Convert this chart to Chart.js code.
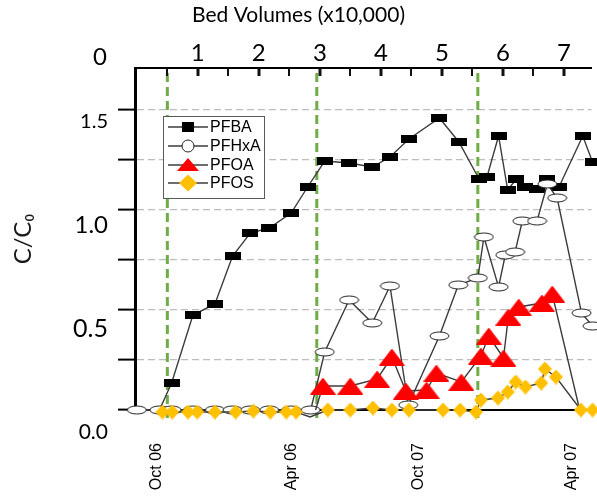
<!DOCTYPE html>
<html>
<head>
<meta charset="utf-8">
<script src="https://cdn.jsdelivr.net/npm/chart.js@4.4.1/dist/chart.umd.min.js"></script>
<style>
  html, body { margin: 0; padding: 0; background: #fff; }
  .wrap { position: relative; width: 597px; height: 496px; }
  .legend {
    position: absolute; left: 163px; top: 116px; width: 102px; height: 83px;
    box-sizing: border-box; border: 1.5px solid #595959; background: #fff;
    padding: 1px 0 0 4px; font: 16px "Liberation Sans", Arial, sans-serif; color: #000;
  }
  .legend div { display: flex; align-items: center; height: 18.7px; white-space: nowrap; }
  .legend canvas { margin-right: 2px; }
</style>
</head>
<body>
<div class="wrap">
  <canvas id="myChart" width="597" height="496"></canvas>
  <div class="legend" id="legend"></div>
</div>
<script>
// data (x = bed volumes x10,000, y = C/C0)

const pfbaBV = [0.00, 0.37, 0.57, 0.92, 1.28, 1.57, 1.86, 2.17, 2.53, 2.80, 3.08, 3.48, 3.86, 4.15, 4.46, 4.96, 5.28, 5.61, 5.74, 5.93, 6.08, 6.22, 6.37, 6.56, 6.73, 6.92, 7.31, 7.47];
const pfbaC = [0, 0, 0.135, 0.475, 0.53, 0.77, 0.885, 0.91, 0.985, 1.115, 1.245, 1.235, 1.215, 1.265, 1.355, 1.46, 1.34, 1.155, 1.165, 1.37, 1.10, 1.155, 1.115, 1.105, 1.155, 1.115, 1.37, 1.24];

const pfhxaBV = [0.00, 0.37, 0.57, 0.92, 1.28, 1.57, 1.86, 2.17, 2.53, 2.85, 3.08, 3.48, 3.86, 4.15, 4.45, 4.96, 5.27, 5.59, 5.69, 5.93, 6.04, 6.20, 6.32, 6.56, 6.73, 6.89, 7.29, 7.47];
const pfhxaC = [0, 0, 0, 0, 0, 0, 0, 0, 0, 0, 0.29, 0.55, 0.435, 0.62, 0.025, 0.37, 0.625, 0.66, 0.865, 0.615, 0.775, 0.79, 0.945, 0.945, 1.13, 1.06, 0.485, 0.42];

const pfoaBV = [2.93, 3.05, 3.50, 3.94, 4.18, 4.41, 4.75, 4.91, 5.32, 5.64, 5.77, 6.01, 6.09, 6.26, 6.64, 6.81, 7.26, 7.47];
const pfoaC = [0, 0.12, 0.12, 0.155, 0.265, 0.095, 0.10, 0.185, 0.14, 0.27, 0.37, 0.26, 0.465, 0.515, 0.535, 0.58, 0, 0];

const pfosBV = [0.42, 0.58, 0.84, 0.99, 1.28, 1.62, 1.91, 2.19, 2.45, 2.61, 2.84, 3.13, 3.50, 3.87, 4.18, 4.46, 5.02, 5.30, 5.56, 5.64, 5.92, 6.08, 6.21, 6.37, 6.63, 6.69, 6.87, 7.28, 7.47];
const pfosC = [-0.01, -0.01, -0.01, -0.01, -0.01, -0.01, -0.005, -0.01, -0.01, -0.01, -0.035, 0, 0, 0.01, 0, 0, 0, 0, -0.01, 0.05, 0.06, 0.09, 0.14, 0.115, 0.135, 0.205, 0.165, 0, 0];

// dashed green markers (bed volumes)
const markerBV = [0.5, 2.95, 5.59];

// tick labels
const bvLabels = ['0', '1', '2', '3', '4', '5', '6', '7'];
const dateLabels = ['Oct 06', 'Apr 06', 'Oct 07', 'Apr 07'];
const dateBV = [0.32, 2.53, 4.62, 7.13];
const yLabels = ['0.0', '0.5', '1.0', '1.5'];
const yLabelVals = [0, 0.5, 1.0, 1.5];
const yLabelSize = [21, 25, 24, 20];

const X_MIN = -0.03, X_MAX = 7.455, Y_MIN = 0, Y_MAX = 1.71;
const lineColor = '#3c3c3c';

function marker(w, h, draw) {
  const c = document.createElement('canvas');
  c.width = w; c.height = h;
  draw(c.getContext('2d'), w, h);
  return c;
}
function square(g, w, h) { g.fillStyle = '#000'; g.fillRect(0, 0, w, h); }
function oval(g, w, h) {
  g.fillStyle = '#fff'; g.strokeStyle = '#222'; g.lineWidth = 1;
  g.beginPath(); g.ellipse(w / 2, h / 2, w / 2 - 1, h / 2 - 1, 0, 0, Math.PI * 2);
  g.fill(); g.stroke();
}
function tri(g, w, h) {
  g.fillStyle = '#ff0000';
  g.beginPath(); g.moveTo(0, h); g.lineTo(w / 2, 0); g.lineTo(w, h); g.closePath(); g.fill();
}
function diamond(g, w, h) {
  g.fillStyle = '#ffc000';
  g.beginPath(); g.moveTo(w / 2, 0); g.lineTo(w, h / 2); g.lineTo(w / 2, h); g.lineTo(0, h / 2); g.closePath(); g.fill();
}

const sqImg = marker(16, 8, square);
const ovImg = marker(21, 10, oval);
const triImg = marker(26, 17, tri);
const diaImg = marker(14, 15, diamond);

function pts(xs, ys) {
  return xs.map(function(x, i) { return { x: x, y: ys[i] }; });
}

function series(label, xs, ys, img, order, hideZero, icon) {
  return {
    label: label,
    data: pts(xs, ys),
    xAxisID: 'x',
    yAxisID: 'y',
    borderColor: lineColor,
    backgroundColor: lineColor,
    borderWidth: 1.4,
    pointStyle: function(ctx) {
      if (hideZero && ctx.raw && ctx.raw.y === 0) return false;
      return img;
    },
    order: order,
    clip: false,
    legendIcon: icon
  };
}

const datasets = [
  series('PFBA', pfbaBV, pfbaC, sqImg, 4, true, function(g) { g.fillStyle = '#000'; g.fillRect(14, 4, 12, 10); }),
  series('PFHxA', pfhxaBV, pfhxaC, ovImg, 3, false, function(g) {
    g.fillStyle = '#fff'; g.strokeStyle = '#222'; g.lineWidth = 1;
    g.beginPath(); g.arc(20, 9, 6, 0, Math.PI * 2); g.fill(); g.stroke();
  }),
  series('PFOA', pfoaBV, pfoaC, triImg, 2, true, function(g) {
    g.fillStyle = '#ff0000';
    g.beginPath(); g.moveTo(9, 15); g.lineTo(20, 2); g.lineTo(31, 15); g.closePath(); g.fill();
  }),
  series('PFOS', pfosBV, pfosC, diaImg, 1, false, function(g) {
    g.fillStyle = '#ffc000';
    g.beginPath(); g.moveTo(20, 0.5); g.lineTo(29, 9); g.lineTo(20, 17.5); g.lineTo(11, 9); g.closePath(); g.fill();
  })
];

markerBV.forEach(function(bv) {
  datasets.push({
    label: '',
    data: [{ x: bv, y: -0.04 }, { x: bv, y: Y_MAX }],
    xAxisID: 'x',
    yAxisID: 'y',
    borderColor: '#70ad47',
    borderWidth: 3,
    borderDash: [9, 5],
    pointRadius: 0,
    order: 10,
    clip: false
  });
});

// top axis extras: "0" sits left of the plot, tick marks point inward
const topAxisExtras = {
  id: 'topAxisExtras',
  afterDraw: function(chart) {
    const s = chart.scales.x2;
    const ctx = chart.ctx;
    ctx.save();
    ctx.strokeStyle = '#111';
    s.ticks.forEach(function(t) {
      const px = Math.round(s.getPixelForValue(t.value));
      ctx.lineWidth = Number.isInteger(t.value) ? 3 : 2;
      ctx.beginPath();
      ctx.moveTo(px, s.bottom);
      ctx.lineTo(px, s.bottom + 8);
      ctx.stroke();
    });
    ctx.font = '24px Lato';
    ctx.fillStyle = '#000';
    ctx.textAlign = 'center';
    ctx.textBaseline = 'middle';
    ctx.fillText(bvLabels[0], 100, s.bottom - 11);
    ctx.restore();
  }
};

function noSidePadding(s) {
  s.paddingLeft = 0; s.paddingRight = 0;
}

const ctx = document.getElementById('myChart').getContext('2d');

const chart = new Chart(ctx, {
  type: 'line',
  data: { datasets: datasets },
  plugins: [topAxisExtras],
  options: {
    responsive: false,
    animation: false,
    layout: { padding: 0 },
    plugins: {
      legend: { display: false },
      tooltip: { enabled: false },
      title: {
        display: true,
        text: 'Bed Volumes (x10,000)',
        color: '#000',
        font: { family: 'Lato', size: 21, weight: 'normal', lineHeight: 1.2 },
        padding: { top: 3, bottom: 0 }
      }
    },
    scales: {
      x: {
        type: 'linear', position: 'bottom', min: X_MIN, max: X_MAX,
        afterBuildTicks: function(s) { s.ticks = dateBV.map(function(v) { return { value: v }; }); },
        afterFit: function(s) { s.height = 86; noSidePadding(s); },
        grid: { display: false, drawTicks: false },
        border: { display: true, color: '#000', width: 2 },
        ticks: {
          autoSkip: false, minRotation: 90, maxRotation: 90, padding: 33, color: '#000',
          font: { family: '"Liberation Sans", Arial', size: 16 },
          callback: function(v, i) { return dateLabels[i]; }
        }
      },
      x2: {
        type: 'linear', position: 'top', min: X_MIN, max: X_MAX,
        afterBuildTicks: function(s) {
          const t = [];
          for (let v = 0.5; v <= 7; v += 0.5) t.push({ value: v });
          s.ticks = t;
        },
        afterFit: function(s) { s.height = 68 - 28.2; noSidePadding(s); },
        grid: { drawOnChartArea: false, drawTicks: false },
        border: { display: true, color: '#000', width: 2 },
        ticks: {
          autoSkip: false, maxRotation: 0, padding: 3, color: '#000',
          font: { family: 'Lato', size: 24, lineHeight: 1 },
          callback: function(v) { return Number.isInteger(v) ? bvLabels[v] : ''; }
        }
      },
      yl: {
        type: 'linear', position: 'left', weight: 2, min: 0.1066, max: 1.761,
        afterBuildTicks: function(s) { s.ticks = yLabelVals.map(function(v) { return { value: v }; }); },
        afterFit: function(s) { s.width = 118; s.paddingTop = 0; s.paddingBottom = 0; },
        grid: { display: false, drawTicks: false },
        border: { display: false },
        ticks: {
          autoSkip: false, padding: 10, color: '#000',
          font: function(c) { return { family: 'Lato', size: yLabelSize[c.index] || 22 }; },
          callback: function(v, i) { return yLabels[i]; }
        },
        title: {
          display: true, text: 'C/C\u2080', color: '#1a1a1a',
          font: { family: 'Lato', size: 24 },
          padding: { top: 9, bottom: 0 }
        }
      },
      y: {
        type: 'linear', position: 'left', weight: 1, min: Y_MIN, max: Y_MAX,
        afterBuildTicks: function(s) {
          const t = [];
          for (let v = 0; v <= 1.5001; v += 0.25) t.push({ value: v });
          s.ticks = t;
        },
        afterFit: function(s) { s.width = 17; s.paddingTop = 0; s.paddingBottom = 0; },
        ticks: { display: false },
        grid: {
          color: function(c) { return c.tick && c.tick.value === 0 ? 'rgba(0,0,0,0)' : '#bdbdbd'; },
          lineWidth: 1.2, drawTicks: true, tickLength: 17, tickColor: '#000', tickWidth: 2
        },
        border: { display: true, color: '#000', width: 3, dash: [7, 4] }
      }
    }
  }
});

// legend

const legendBox = document.getElementById('legend');
chart.data.datasets.forEach(function(ds) {
  if (!ds.legendIcon) return;
  const row = document.createElement('div');
  const c = document.createElement('canvas');
  c.width = 40; c.height = 18;
  const g = c.getContext('2d');
  g.strokeStyle = lineColor; g.lineWidth = 1.4;
  g.beginPath(); g.moveTo(0, 9); g.lineTo(40, 9); g.stroke();
  ds.legendIcon(g);
  const span = document.createElement('span');
  span.textContent = ds.label;
  row.appendChild(c);
  row.appendChild(span);
  legendBox.appendChild(row);
});
</script>
</body>
</html>
